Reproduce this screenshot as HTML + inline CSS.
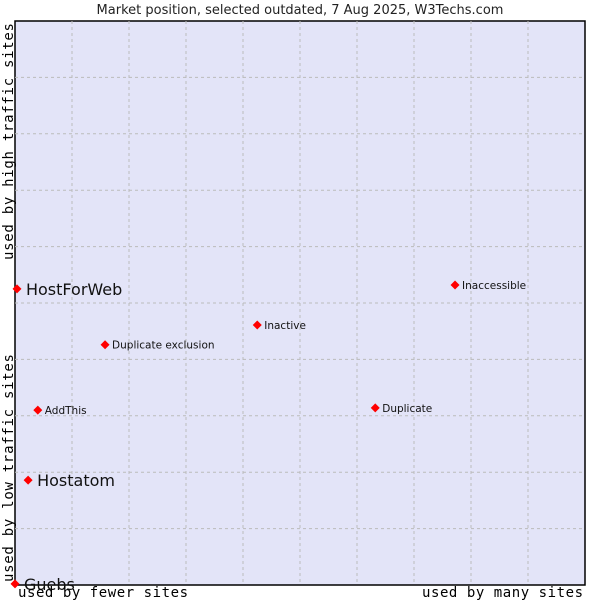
<!DOCTYPE html>
<html><head><meta charset="utf-8"><style>
body{margin:0;background:#fff}
svg text{font-family:"DejaVu Sans","Liberation Sans",sans-serif}
.mono{font-family:"DejaVu Sans Mono","Liberation Mono",monospace}
</style></head><body>
<svg id="c" width="600" height="600">
<text x="300" y="14" text-anchor="middle" font-size="13" fill="#222">Market position, selected outdated, 7 Aug 2025, W3Techs.com</text>
<rect x="15" y="21" width="570" height="564" fill="#e3e4f8" stroke="#000" stroke-width="1.5"/>
<g id="grid"></g>
<g id="pts"></g>
<text class="mono" x="18" y="597" font-size="14" textLength="170" fill="#000">used by fewer sites</text>
<text class="mono" x="422" y="597" font-size="14" textLength="161" fill="#000">used by many sites</text>
<text class="mono" transform="translate(13,582) rotate(-90)" font-size="14" textLength="228" fill="#000">used by low traffic sites</text>
<text class="mono" transform="translate(13,260) rotate(-90)" font-size="14" textLength="237" fill="#000">used by high traffic sites</text>
</svg>
<script>
const names=["HostForWeb","Hostatom","Guebs","AddThis","Duplicate exclusion","Inactive","Inaccessible","Duplicate"];
const xVals=[0.35,2.3,0,4.0,15.8,42.5,77.2,63.2];
const yVals=[52.5,18.6,0.2,31.0,42.6,46.1,53.2,31.4];
const bigLabel=[true,true,true,false,false,false,false,false];
const L=15,T=21,W=570,H=564;
const sx=v=>L+v/100*W, sy=v=>T+H-v/100*H;
const NS="http://www.w3.org/2000/svg";
const g=document.getElementById('grid');
for(let i=1;i<10;i++){
 let l=document.createElementNS(NS,'line');
 l.setAttribute('x1',sx(i*10));l.setAttribute('x2',sx(i*10));l.setAttribute('y1',T);l.setAttribute('y2',T+H);
 l.setAttribute('stroke','#bbb');l.setAttribute('stroke-dasharray','3,3');
 
 
 g.appendChild(l);
 let m=document.createElementNS(NS,'line');
 m.setAttribute('y1',sy(i*10));m.setAttribute('y2',sy(i*10));m.setAttribute('x1',L);m.setAttribute('x2',L+W);
 m.setAttribute('stroke','#bbb');m.setAttribute('stroke-dasharray','3,3');
 
 
 g.appendChild(m);
}
const p=document.getElementById('pts');
names.forEach((n,i)=>{
 const x=sx(xVals[i]),y=sy(yVals[i]);
 const d=document.createElementNS(NS,'path');
 d.setAttribute('d',`M${x-4.5},${y}L${x},${y-4.5}L${x+4.5},${y}L${x},${y+4.5}Z`);
 d.setAttribute('fill','#f00');
 
 
 p.appendChild(d);
 const t=document.createElementNS(NS,'text');
 t.setAttribute('x',x+(bigLabel[i]?9:7));
 t.setAttribute('y',y+(bigLabel[i]?6:4));
 t.setAttribute('font-size',bigLabel[i]?16:10.5);
 t.setAttribute('fill','#111');
 t.textContent=n;
 
 
 p.appendChild(t);
});
</script>
</body></html>
